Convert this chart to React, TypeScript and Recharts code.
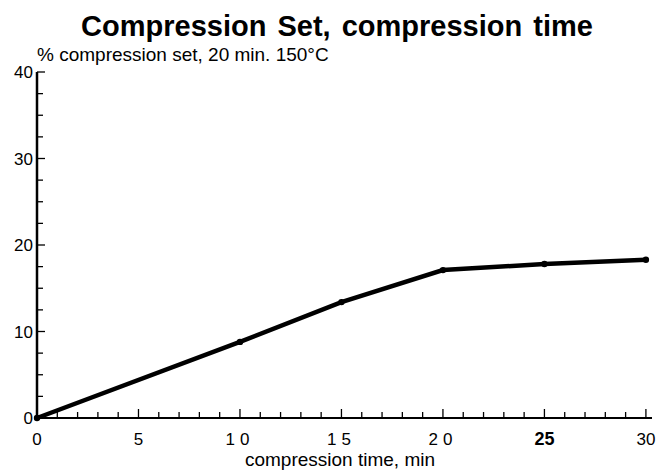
import { LineChart, Line, XAxis, YAxis } from 'recharts'

const times = [0, 10, 15, 20, 25, 30]
const compressionSet = [0, 8.8, 13.4, 17.1, 17.8, 18.3]

const xTicks = [
  0, 1, 2, 3, 4, 5, 6, 7, 8, 9, 10, 11, 12, 13, 14, 15, 16, 17, 18, 19, 20, 21, 22, 23, 24, 25, 26,
  27, 28, 29, 30,
]
const xLabels = ['0', '5', '10', '15', '20', '25', '30']
const yTicks = [0, 2.5, 5, 7.5, 10, 12.5, 15, 17.5, 20, 22.5, 25, 27.5, 30, 32.5, 35, 37.5, 40]
const yLabels = ['0', '10', '20', '30', '40']

const data = times.map((t, i) => ({ time: t, set: compressionSet[i] }))

const font = '"Liberation Sans", Arial, sans-serif'

function XTick(props: any) {
  const { x, y, payload } = props
  const v = payload.value as number
  const major = v % 5 === 0
  const label = String(v)
  const spaced = label === '10' || label === '15' || label === '20'
  return (
    <g>
      {v > 0 && <line x1={x} x2={x} y1={y} y2={y - (major ? 9 : 6)} stroke="#000" strokeWidth={1.3} />}
      {xLabels.includes(label) && (
        <text
          x={x}
          y={y + 27}
          textAnchor="middle"
          fontFamily={font}
          fontSize={v === 25 ? 18 : 17}
          fontWeight={v === 25 ? 'bold' : 'normal'}
          letterSpacing={spaced ? 5 : 0}
          fill="#000"
        >
          {label}
        </text>
      )}
    </g>
  )
}

function YTick(props: any) {
  const { x, y, payload } = props
  const v = payload.value as number
  const label = String(v)
  const major = v % 10 === 0
  return (
    <g>
      {v > 0 && <line x1={x} x2={x + (major ? 8 : 6)} y1={y} y2={y} stroke="#000" strokeWidth={1.3} />}
      {yLabels.includes(label) && (
        <text x={x - 4} y={y + 6} textAnchor="end" fontFamily={font} fontSize={17} fill="#000">
          {label}
        </text>
      )}
    </g>
  )
}

export default function App() {
  return (
    <div style={{ position: 'absolute', left: 0, top: 0, width: 661, height: 470, background: '#fff' }}>
      <LineChart
        width={661}
        height={470}
        data={data}
        margin={{ top: 72, right: 9, left: 7, bottom: 22 }}
        style={{ position: 'absolute', left: 0, top: 0 }}
      >
        <XAxis
          dataKey="time"
          type="number"
          domain={[0, 30.3]}
          ticks={xTicks}
          interval={0}
          height={30}
          tickSize={0}
          tickMargin={0}
          tickLine={false}
          axisLine={{ stroke: '#000', strokeWidth: 2 }}
          tick={<XTick />}
        />
        <YAxis
          type="number"
          domain={[0, 40]}
          ticks={yTicks}
          interval={0}
          width={30}
          tickSize={0}
          tickMargin={0}
          tickLine={false}
          axisLine={{ stroke: '#000', strokeWidth: 2.5 }}
          tick={<YTick />}
        />
        <Line
          dataKey="set"
          type="linear"
          stroke="#000"
          strokeWidth={4.5}
          dot={{ r: 3.2, fill: '#000', stroke: '#000', strokeWidth: 0 }}
          isAnimationActive={false}
        />
      </LineChart>
      <svg
        width={661}
        height={470}
        style={{ position: 'absolute', left: 0, top: 0, pointerEvents: 'none' }}
      >
        <text
          x={337}
          y={36}
          textAnchor="middle"
          fontFamily={font}
          fontWeight="bold"
          fontSize={29}
          wordSpacing={3}
          fill="#000"
        >
          Compression Set, compression time
        </text>
        <text x={37} y={61} fontFamily={font} fontSize={19} fill="#000">
          % compression set, 20 min. 150°C
        </text>
        <text x={340} y={466} textAnchor="middle" fontFamily={font} fontSize={19} fill="#000">
          compression time, min
        </text>
      </svg>
    </div>
  )
}
